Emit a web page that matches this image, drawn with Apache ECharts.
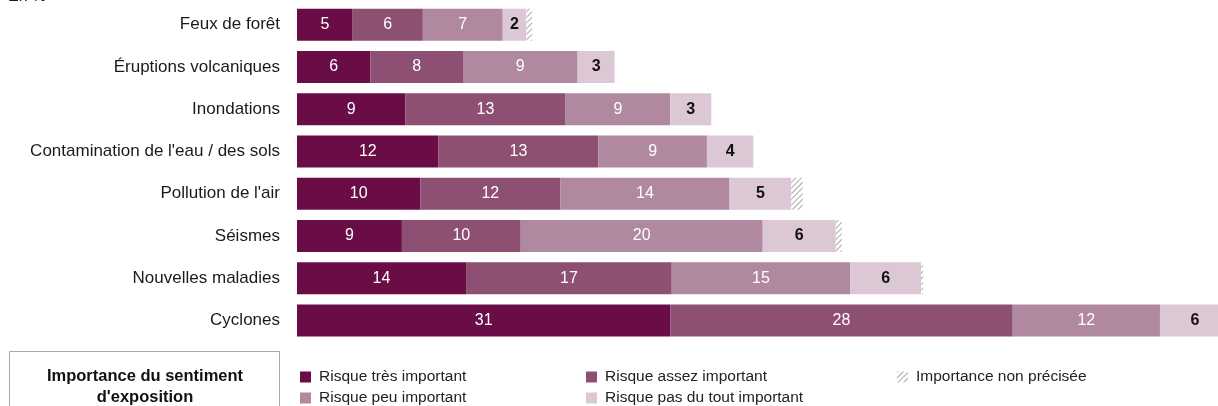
<!DOCTYPE html>
<html>
<head>
<meta charset="utf-8">
<script src="https://cdn.jsdelivr.net/npm/echarts@6/dist/echarts.min.js"></script>
<style>
html,body{margin:0;padding:0;background:#fff;}
#chart{width:1218px;height:406px;}
</style>
</head>
<body>
<div id="chart"></div>
<script>
const categories = ['Feux de forêt', 'Éruptions volcaniques', 'Inondations', "Contamination de l'eau / des sols", "Pollution de l'air", 'Séismes', 'Nouvelles maladies', 'Cyclones'];
const seriesNames = ['Risque très important', 'Risque assez important', 'Risque peu important', 'Risque pas du tout important', 'Importance non précisée'];
const tresImportant = [4.6, 6.06, 8.95, 11.7, 10.2, 8.67, 13.97, 30.85];
const assezImportant = [5.8, 7.66, 13.25, 13.2, 11.55, 9.82, 17.0, 28.3];
const peuImportant = [6.6, 9.47, 8.65, 8.98, 14.0, 20.0, 14.74, 12.17];
const pasDuTout = [1.96, 3.06, 3.39, 3.83, 5.1, 6.04, 5.87, 5.8];
const nonPrecisee = [0.47, 0, 0, 0, 0.95, 0.5, 0.17, 0];

const colors = ['#6a0d46', '#8d4f72', '#b088a0', '#dcc7d4', '#ffffff'];
const FONT = "'Liberation Sans', Arial, Helvetica, sans-serif";

function barSeries(name, data, idx, labelColor, bold) {
  return {
    name: name,
    type: 'bar',
    stack: 'total',
    barWidth: 32,
    data: data,
    itemStyle: { color: colors[idx] },
    label: {
      show: true,
      position: 'inside',
      color: labelColor,
      fontSize: 16,
      fontWeight: bold ? 'bold' : 'normal',
      fontFamily: FONT,
      formatter: p => String(Math.round(p.value))
    },
    emphasis: { disabled: true }
  };
}

const chart = echarts.init(document.getElementById('chart'), null, { renderer: 'canvas' });
const legendCommon = {
  orient: 'vertical', icon: 'rect', itemWidth: 11, itemHeight: 11, itemGap: 5,
  top: 369, height: 60, padding: 0, selectedMode: false,
  textStyle: { fontSize: 15.5, color: '#222', fontFamily: FONT, padding: [0, 0, 0, 3] }
};
chart.setOption({
  animation: false,
  textStyle: { fontFamily: FONT },
  grid: { left: 297, width: 968, top: 3.6, height: 338, containLabel: false, outerBoundsMode: 'none' },
  xAxis: { type: 'value', min: 0, max: 80, show: false },
  yAxis: {
    type: 'category', inverse: true, data: categories,
    axisLine: { show: false }, axisTick: { show: false }, splitLine: { show: false },
    axisLabel: { fontSize: 17, color: '#1a1a1a', margin: 17, fontFamily: FONT }
  },
  legend: [
    Object.assign({}, legendCommon, { left: 300, data: [seriesNames[0], seriesNames[2]] }),
    Object.assign({}, legendCommon, { left: 586, data: [seriesNames[1], seriesNames[3]] }),
    Object.assign({}, legendCommon, { left: 897, data: [seriesNames[4]] })
  ],
  series: [
    barSeries(seriesNames[0], tresImportant, 0, '#ffffff', false),
    barSeries(seriesNames[1], assezImportant, 1, '#ffffff', false),
    barSeries(seriesNames[2], peuImportant, 2, '#ffffff', false),
    barSeries(seriesNames[3], pasDuTout, 3, '#111111', true),
    {
      name: seriesNames[4], type: 'bar', stack: 'total', barWidth: 32, data: nonPrecisee,
      itemStyle: {
        color: '#ffffff',
        decal: { symbol: 'rect', symbolSize: 1, dashArrayX: [[1, 0]], dashArrayY: [1, 3], rotation: -Math.PI / 4, color: '#aaaaaa' }
      },
      label: { show: false },
      emphasis: { disabled: true }
    }
  ],
  graphic: [
    { type: 'text', left: 8, top: -11, style: { text: 'En %', fontSize: 16, fill: '#1a1a1a', fontFamily: FONT } },
    { type: 'rect', shape: { x: 9.5, y: 351.5, width: 270, height: 80 }, style: { fill: 'none', stroke: '#aaaaaa', lineWidth: 1 } },
    { type: 'text', x: 145, y: 365.5, style: { text: "Importance du sentiment\nd'exposition", align: 'center', verticalAlign: 'top', lineHeight: 21.5, fontSize: 16.5, fontWeight: 'bold', fill: '#111', fontFamily: FONT } }
  ]
});
</script>
</body>
</html>
